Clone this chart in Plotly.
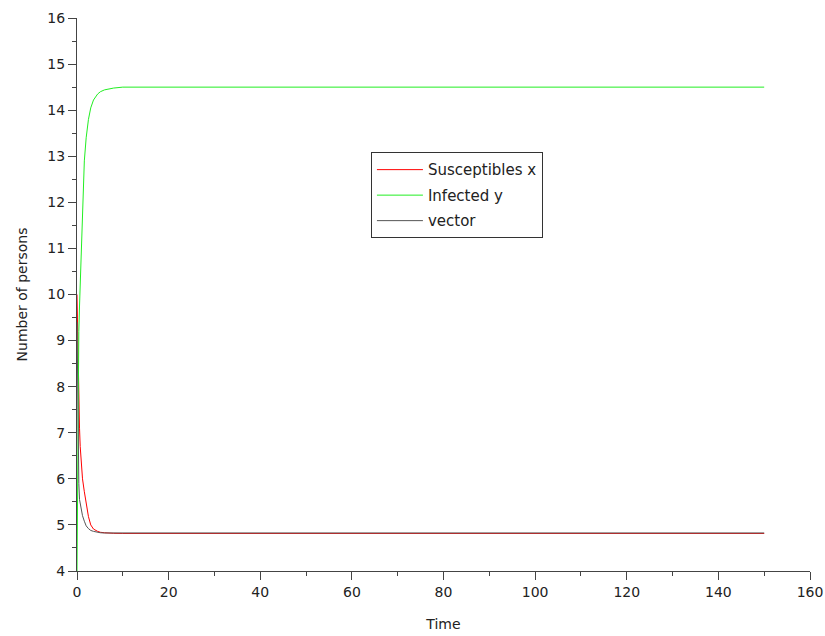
import plotly.graph_objects as go

# time points (shared by all series)
time = [0, 0.1, 0.2, 0.3, 0.4, 0.55, 0.7, 0.85, 1.0, 1.2, 1.6, 2.0, 2.5, 3.0,
        3.6, 4.5, 5.1, 6.0, 7.2, 8.0, 10, 15, 20, 50, 100, 150]

susceptibles_x = [10.0, 9.3, 8.7, 8.1, 7.6, 7.1, 6.7, 6.42, 6.2, 6.0, 5.72, 5.45,
                  5.18, 5.0, 4.91, 4.86, 4.84, 4.83, 4.82, 4.818, 4.815, 4.815,
                  4.815, 4.815, 4.815, 4.815]

infected_y = [4.0, 5.5, 6.8, 8.3, 9.2, 9.75, 10.25, 10.7, 11.3, 12.0, 12.9, 13.4,
              13.8, 14.05, 14.22, 14.35, 14.4, 14.44, 14.47, 14.48, 14.5, 14.5,
              14.5, 14.5, 14.5, 14.5]

vector = [9.4, 8.0, 7.0, 6.4, 5.9, 5.55, 5.45, 5.35, 5.28, 5.2, 5.08, 4.98,
          4.92, 4.88, 4.86, 4.84, 4.83, 4.825, 4.825, 4.825, 4.825, 4.825,
          4.825, 4.825, 4.825, 4.825]

x_ticks = [0, 20, 40, 60, 80, 100, 120, 140, 160]
y_ticks = [4, 5, 6, 7, 8, 9, 10, 11, 12, 13, 14, 15, 16]

fig = go.Figure()
fig.add_trace(go.Scatter(x=time, y=susceptibles_x, mode="lines", name="Susceptibles x",
                         legendgroup="a", line=dict(color="#ff0000", width=1)))
fig.add_trace(go.Scatter(x=time, y=infected_y, mode="lines", name="Infected y",
                         legendgroup="b", line=dict(color="#22ee22", width=1)))
fig.add_trace(go.Scatter(x=time, y=vector, mode="lines", name="vector",
                         legendgroup="c", line=dict(color="#555555", width=1)))

axis_font = dict(family="DejaVu Sans", size=14, color="#222222")

fig.update_layout(
    width=825, height=636,
    margin=dict(l=77, r=15, t=18, b=65, autoexpand=False),
    plot_bgcolor="white", paper_bgcolor="white",
    font=dict(family="DejaVu Sans", size=14, color="#222222"),
    showlegend=True,
    legend=dict(x=0.401, y=0.757, xanchor="left", yanchor="top",
                bgcolor="white", bordercolor="#333333", borderwidth=1,
                tracegroupgap=3, itemwidth=46,
                entrywidth=126, entrywidthmode="pixels",
                font=dict(family="DejaVu Sans", size=15, color="#222222"),
                traceorder="grouped"),
    xaxis=dict(range=[0, 160], tickvals=x_ticks, ticktext=[str(v) for v in x_ticks],
               automargin=False,
               showgrid=False, zeroline=False, showline=True, linecolor="#444444",
               linewidth=1, ticks="outside", ticklen=8, tickcolor="#444444",
               minor=dict(dtick=10, ticks="outside", ticklen=4, tickcolor="#444444"),
               tickfont=axis_font,
               title=dict(text="Time", font=axis_font, standoff=20)),
    yaxis=dict(range=[4, 16], tickvals=y_ticks, ticktext=[str(v) for v in y_ticks],
               automargin=False,
               showgrid=False, zeroline=False, showline=True, linecolor="#444444",
               linewidth=1, ticks="outside", ticklen=8, tickcolor="#444444",
               minor=dict(dtick=0.5, ticks="outside", ticklen=4, tickcolor="#444444"),
               tickfont=axis_font,
               title=dict(text="Number of persons", font=axis_font, standoff=16)),
)

fig.write_html("out.html")
